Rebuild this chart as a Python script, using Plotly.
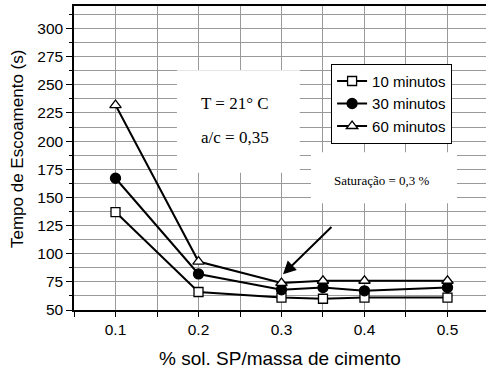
import plotly.graph_objects as go

# Superplasticizer dosage (% solution SP / cement mass)
dosagem = [0.1, 0.2, 0.3, 0.35, 0.4, 0.5]

# Flow time (s) at each resting time
tempo_10 = [137, 66, 61, 60, 61, 61]
tempo_30 = [167, 82, 68, 70, 67, 70]
tempo_60 = [232, 93, 74, 76, 76, 76]

series = [
    ("10 minutos", tempo_10, "square", "white"),
    ("30 minutos", tempo_30, "circle", "black"),
    ("60 minutos", tempo_60, "triangle-up", "white"),
]

fig = go.Figure()
for nome, valores, simbolo, preenchimento in series:
    fig.add_trace(go.Scatter(
        x=dosagem, y=valores, name=nome, mode="lines+markers",
        line=dict(color="black", width=2),
        marker=dict(symbol=simbolo, size=10 if simbolo != "square" else 9,
                    color=preenchimento, line=dict(color="black", width=1.3)),
    ))

grid = "#9a9a9a"
serif = "Liberation Serif, Times New Roman"
fig.update_layout(
    width=486, height=371,
    margin=dict(l=74, r=0, t=5.5, b=61.3),
    paper_bgcolor="white", plot_bgcolor="white",
    font=dict(family="Liberation Sans, Arial", color="black", size=15),
    xaxis=dict(
        range=[0.05, 0.5464], tick0=0.1, dtick=0.1, tickformat=".1f",
        showgrid=True, gridcolor=grid, gridwidth=1,
        ticks="outside", ticklen=5, tickwidth=1, tickcolor="black",
        showline=True, linecolor="black", linewidth=1.5, mirror=True,
        zeroline=False, tickfont=dict(size=15.5),
        minor=dict(dtick=0.05, tick0=0.05, ticks="outside", ticklen=5,
                   tickcolor="black", showgrid=True, gridcolor=grid, gridwidth=1),
        title=dict(text="% sol. SP/massa de cimento", font=dict(size=19), standoff=14),
    ),
    yaxis=dict(
        range=[50, 320], tick0=50, dtick=25,
        showgrid=True, gridcolor=grid, gridwidth=1,
        ticks="outside", ticklen=6, tickwidth=1, tickcolor="black",
        showline=True, linecolor="black", linewidth=1.5, mirror=False,
        zeroline=False, tickfont=dict(size=15.5),
        minor=dict(dtick=12.5, tick0=50, ticks="outside", ticklen=3,
                   tickcolor="black", showgrid=True, gridcolor=grid, gridwidth=1),
    ),
    legend=dict(
        x=0.624, y=0.81, xanchor="left", yanchor="top",
        bgcolor="white", bordercolor="black", borderwidth=1,
        font=dict(size=15), itemwidth=30, tracegroupgap=0,
    ),
    shapes=[
        dict(type="rect", xref="x", yref="y", x0=0.174, x1=0.322, y0=172, y1=263,
             fillcolor="white", line=dict(width=0), layer="between"),
        dict(type="rect", xref="x", yref="y", x0=0.3355, x1=0.5114, y0=144.7, y1=190,
             fillcolor="white", line=dict(width=0), layer="between"),
    ],
    annotations=[
        dict(x=-0.165, y=0.528, xref="paper", yref="paper", textangle=-90,
             showarrow=False, text="Tempo de Escoamento (s)", font=dict(size=17)),
        dict(x=0.2, y=233.8, xref="x", yref="y", xanchor="left", showarrow=False,
             text="T = 21° C", font=dict(family=serif, size=17)),
        dict(x=0.2, y=203.3, xref="x", yref="y", xanchor="left", showarrow=False,
             text="a/c = 0,35", font=dict(family=serif, size=17)),
        dict(x=0.421, y=165, xref="x", yref="y", showarrow=False,
             text="Saturação = 0,3 %", font=dict(family=serif, size=13)),
        dict(x=0.3018, y=81.7, xref="x", yref="y", ax=0.362, ay=125, axref="x", ayref="y",
             text="", showarrow=True, arrowhead=2, arrowsize=1.3, arrowwidth=2, arrowcolor="black"),
    ],
)

fig.write_html("out.html")
